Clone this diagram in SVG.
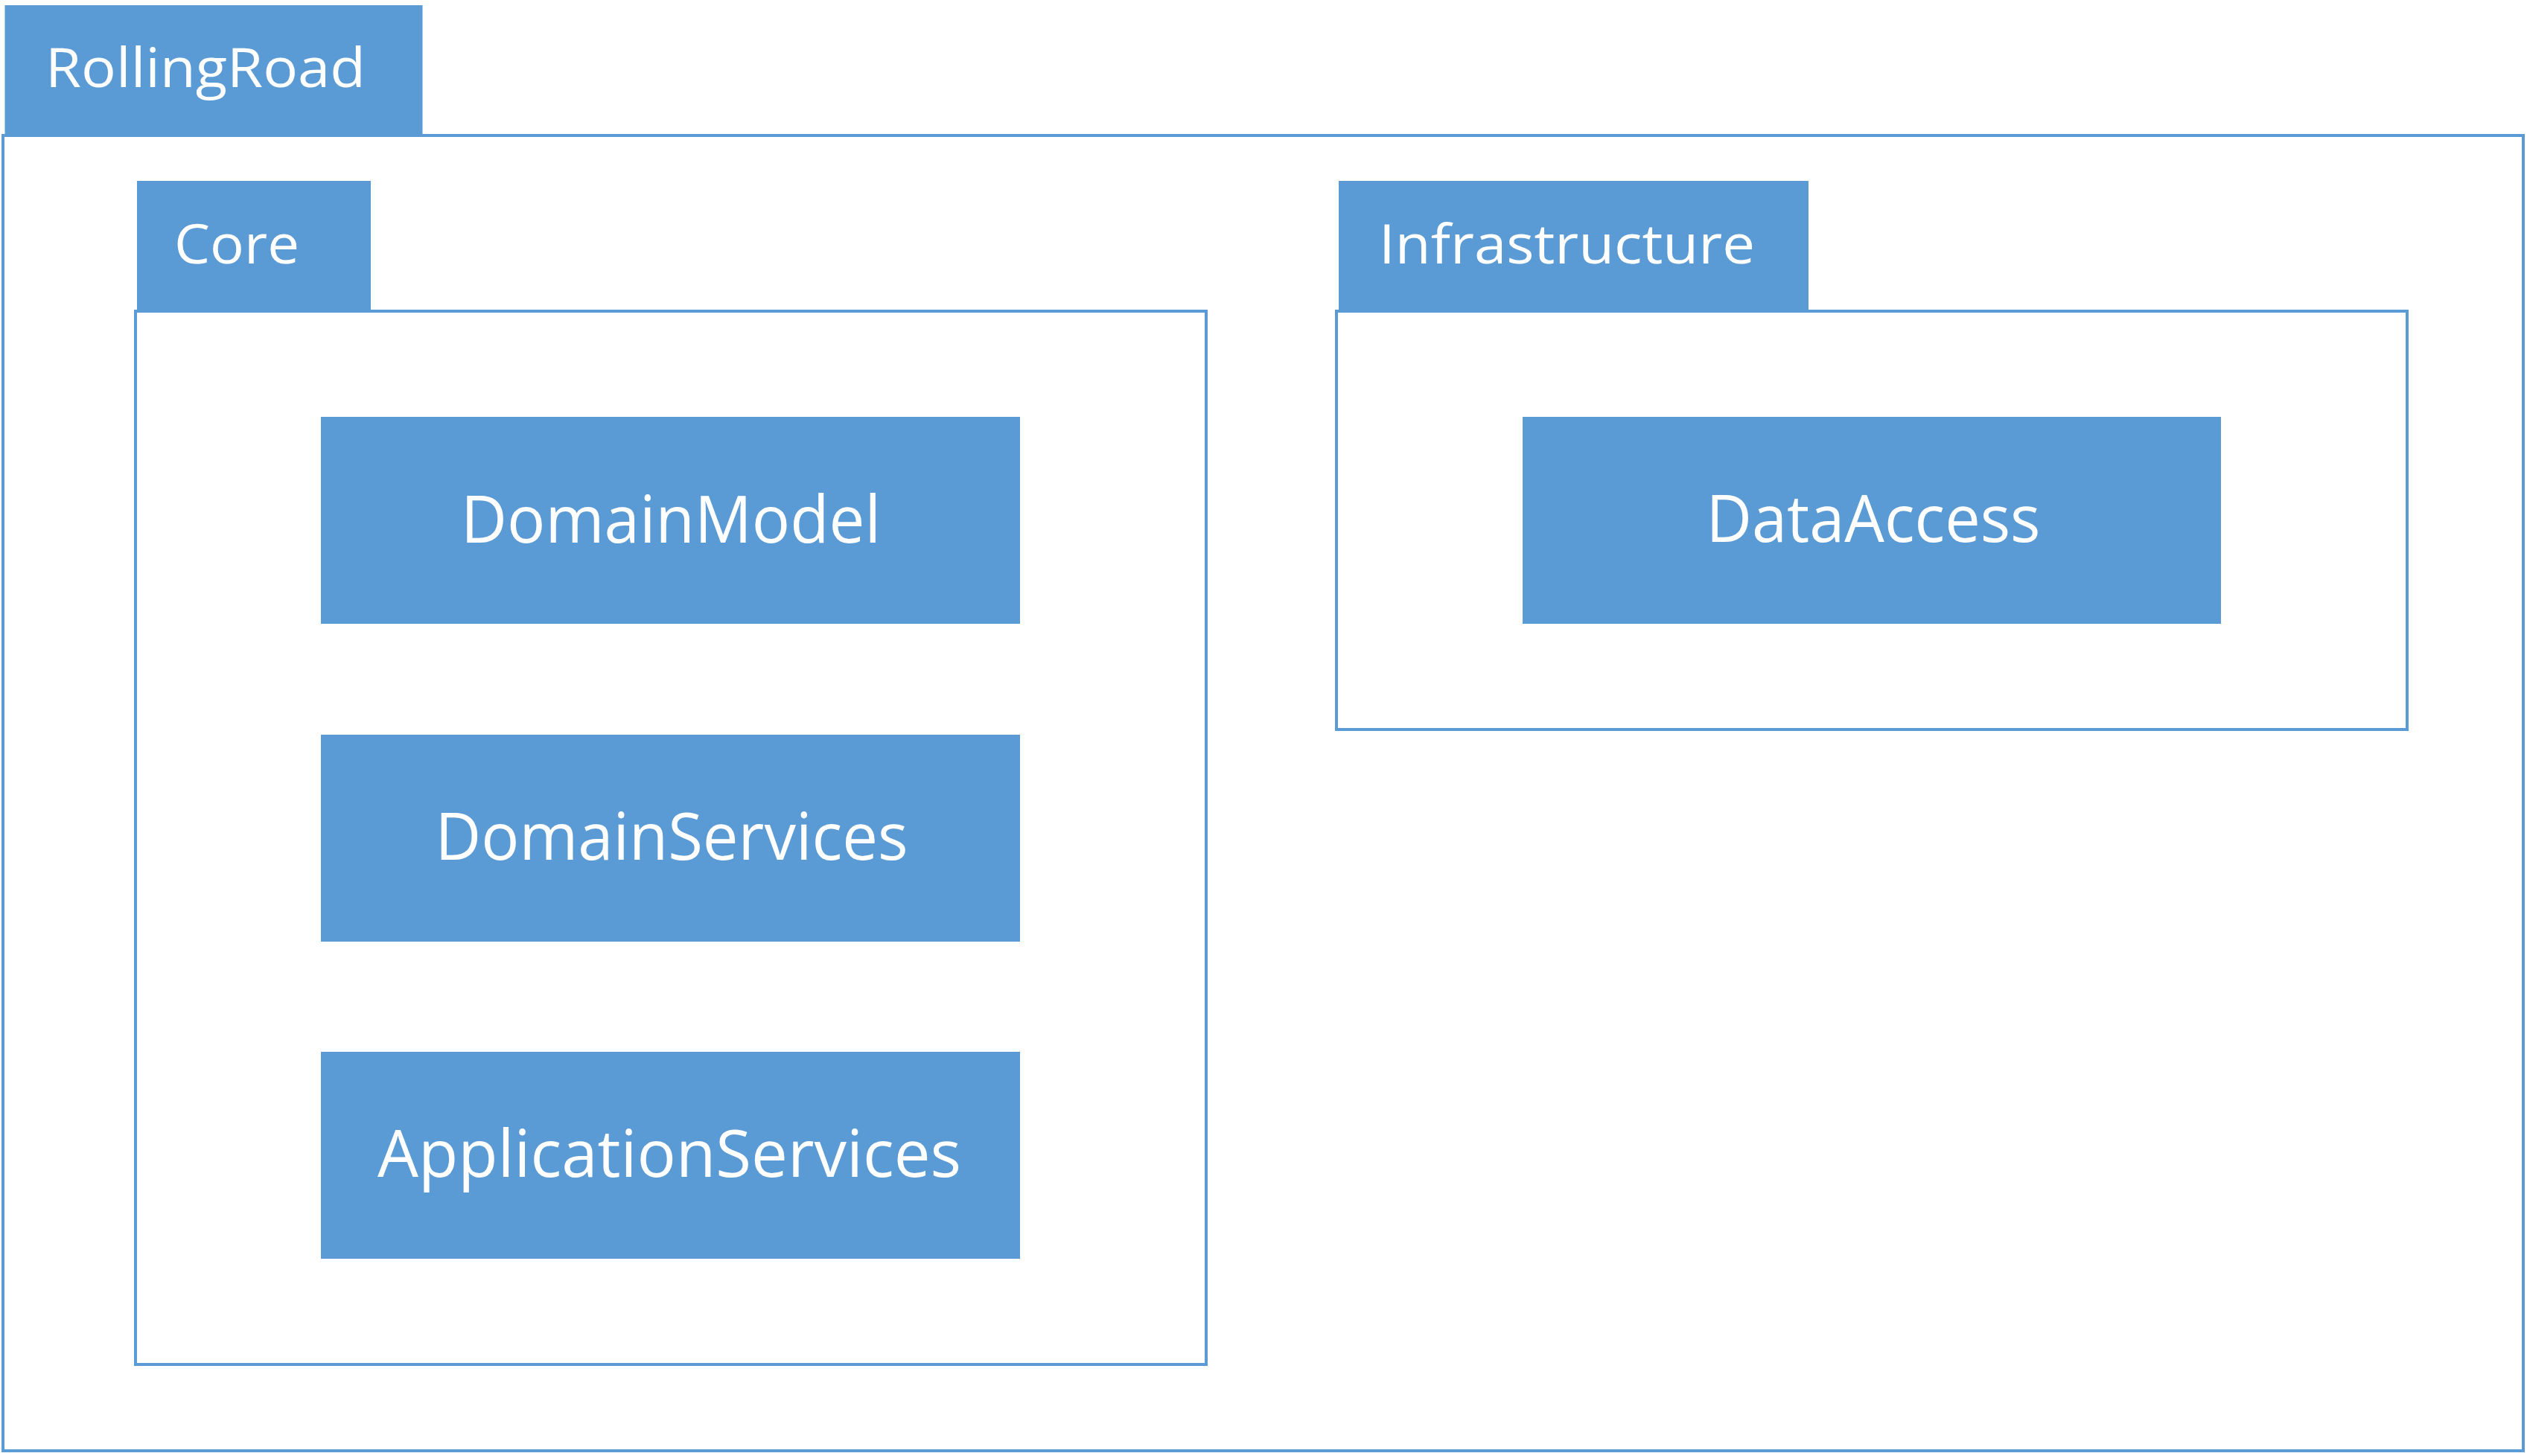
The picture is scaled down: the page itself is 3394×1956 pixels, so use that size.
<svg xmlns="http://www.w3.org/2000/svg" width="3394" height="1956" viewBox="0 0 3394 1956">
<style>
.frame{fill:#ffffff;stroke:#5B9BD5;stroke-width:4}
.fill{fill:#5B9BD5}
.tab{font-family:"Open Sans","Liberation Sans",sans-serif;font-size:73px;fill:#ffffff}
.lbl{font-family:"Open Sans","Liberation Sans",sans-serif;font-size:88px;fill:#ffffff;text-anchor:middle}
</style>
<rect width="3394" height="1956" fill="#ffffff"/>
<g id="RollingRoad">
<rect class="fill" x="6.5" y="7" width="561" height="173"/>
<rect class="frame" x="4" y="182" width="3385" height="1767"/>
<text class="tab" x="61" y="117" textLength="430" lengthAdjust="spacingAndGlyphs">RollingRoad</text>
</g>
<g id="Core">
<rect class="fill" x="184" y="243" width="314" height="173"/>
<rect class="frame" x="182" y="418" width="1438" height="1415"/>
<text class="tab" x="234" y="354" textLength="168" lengthAdjust="spacingAndGlyphs">Core</text>
</g>
<g id="Infrastructure">
<rect class="fill" x="1798" y="243" width="631" height="173"/>
<rect class="frame" x="1795" y="418" width="1438" height="562"/>
<text class="tab" x="1852" y="354" textLength="505" lengthAdjust="spacingAndGlyphs">Infrastructure</text>
</g>
<g id="DomainModel">
<rect class="fill" x="431" y="560" width="939" height="278"/>
<text class="lbl" x="901" y="729" textLength="564" lengthAdjust="spacingAndGlyphs">DomainModel</text>
</g>
<g id="DomainServices">
<rect class="fill" x="431" y="987" width="939" height="278"/>
<text class="lbl" x="902" y="1155" textLength="635" lengthAdjust="spacingAndGlyphs">DomainServices</text>
</g>
<g id="ApplicationServices">
<rect class="fill" x="431" y="1413" width="939" height="278"/>
<text class="lbl" x="899" y="1581" textLength="784" lengthAdjust="spacingAndGlyphs">ApplicationServices</text>
</g>
<g id="DataAccess">
<rect class="fill" x="2045" y="560" width="938" height="278"/>
<text class="lbl" x="2516" y="728" textLength="449" lengthAdjust="spacingAndGlyphs">DataAccess</text>
</g>
<g id="connectors"></g>
</svg>
